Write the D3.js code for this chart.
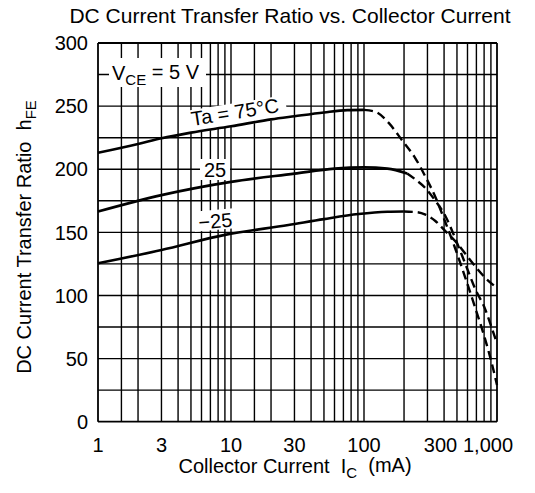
<!DOCTYPE html>
<html>
<head>
<meta charset="utf-8">
<script src="https://cdn.jsdelivr.net/npm/d3@7"></script>
<style>
  body { margin: 0; background: #fff; }
  svg { font-family: "Liberation Sans", Arial, sans-serif; }
  text { white-space: pre; }
</style>
</head>
<body>
<div id="chart"></div>
<script>
// grid and tick values
const xGrid = [1, 1.5, 2, 3, 4, 5, 6, 7, 8, 9,
               10, 15, 20, 30, 40, 50, 60, 70, 80, 90,
               100, 200, 300, 400, 500, 600, 700, 800, 900, 1000];
const yGrid = [0, 25, 50, 75, 100, 125, 150, 175, 200, 225, 250, 275, 300];
const xTicks = [1, 3, 10, 30, 100, 300, 1000];
const xTickText = ["1", "3", "10", "30", "100", "300", "1,000"];
const yTicks = [0, 50, 100, 150, 200, 250, 300];

// curves: [Ic (mA), hFE]
const t75Solid = [[1, 213], [2, 220], [3, 224.5], [5, 229], [10, 234], [20, 239.5], [30, 242], [50, 245], [75, 246.8], [100, 247]];
const t75Dash  = [[100, 247], [122, 245.5], [154, 236.5], [193, 223], [244, 208.5], [290, 194], [344, 178], [409, 158], [486, 137], [578, 114], [687, 90], [816, 65], [915, 46], [1000, 29]];
const t25Solid = [[1, 166.5], [3, 179.5], [10, 190], [30, 196.5], [60, 200.5], [100, 201.5], [150, 200.5], [211, 196.7]];
const t25Dash  = [[211, 196.7], [250, 191], [290, 185], [344, 175], [409, 163], [486, 145], [578, 125], [687, 105], [816, 89], [915, 74], [1000, 62]];
const tm25Solid = [[1, 125.5], [3, 136], [9, 148], [27, 155.8], [50, 160.5], [91, 164.5], [150, 166.3], [199, 166.5]];
const tm25Dash  = [[199, 166.5], [250, 166], [290, 164], [344, 159], [409, 151], [486, 143], [578, 133], [687, 123], [816, 114], [1000, 106]];

const W = 535, H = 493;
const L = 98, R = 497, T = 43, B = 421.7;

const svg = d3.select("#chart").append("svg")
    .attr("width", W)
    .attr("height", H);

const x = d3.scaleLog().domain([1, 1000]).range([L, R]);
const y = d3.scaleLinear().domain([0, 300]).range([B, T]);

// grid
svg.append("g")
    .selectAll("line")
    .data(xGrid)
    .enter()
    .append("line")
    .attr("x1", d => x(d)).attr("x2", d => x(d))
    .attr("y1", T).attr("y2", B)
    .attr("stroke", "#000")
    .attr("stroke-width", d => (d === 1 || d === 1000) ? 1.8 : 1.4);

svg.append("g")
    .selectAll("line")
    .data(yGrid)
    .enter()
    .append("line")
    .attr("x1", L).attr("x2", R)
    .attr("y1", d => y(d)).attr("y2", d => y(d))
    .attr("stroke", "#000")
    .attr("stroke-width", d => (d === 0 || d === 300) ? 1.8 : 1.4);

// label backgrounds
svg.append("rect").attr("x", 109).attr("y", 58).attr("width", 97).attr("height", 29).attr("fill", "#fff");
svg.append("rect").attr("x", 200).attr("y", 159).attr("width", 30).attr("height", 21).attr("fill", "#fff");
svg.append("rect").attr("x", 194).attr("y", 210).attr("width", 43).attr("height", 20).attr("fill", "#fff")
    .attr("transform", "rotate(-5, 215, 220)");
svg.append("rect").attr("x", 185).attr("y", 103).attr("width", 102).attr("height", 23).attr("fill", "#fff")
    .attr("transform", "rotate(-9, 236, 115)");

// curves
const line = d3.line()
    .x(d => x(d[0]))
    .y(d => y(d[1]))
    .curve(d3.curveMonotoneX);

[t75Solid, t25Solid, tm25Solid].forEach(s => {
    svg.append("path")
        .attr("d", line(s))
        .attr("fill", "none")
        .attr("stroke", "#000")
        .attr("stroke-width", 2.6);
});

[t75Dash, t25Dash, tm25Dash].forEach(s => {
    svg.append("path")
        .attr("d", line(s))
        .attr("fill", "none")
        .attr("stroke", "#000")
        .attr("stroke-width", 2.4)
        .attr("stroke-dasharray", "9,5");
});

// tick labels
svg.append("g")
    .selectAll("text")
    .data(yTicks)
    .enter()
    .append("text")
    .attr("x", 88)
    .attr("y", d => y(d))
    .attr("dy", "0.36em")
    .attr("text-anchor", "end")
    .style("font-size", "20px")
    .text(d => d);

svg.append("g")
    .selectAll("text")
    .data(xTicks)
    .enter()
    .append("text")
    .attr("x", (d, i) => x(d) + (d === 300 ? 13 : d === 1000 ? -9 : 0))
    .attr("y", 452)
    .attr("text-anchor", "middle")
    .style("font-size", "20px")
    .text((d, i) => xTickText[i]);

// title
svg.append("text")
    .attr("x", 290)
    .attr("y", 23)
    .attr("text-anchor", "middle")
    .style("font-size", "21px")
    .text("DC Current Transfer Ratio vs. Collector Current");

// x axis title
const xt = svg.append("text")
    .attr("x", 295)
    .attr("y", 473)
    .attr("text-anchor", "middle")
    .style("font-size", "20px");
xt.append("tspan").text("Collector Current  I");
xt.append("tspan").attr("dy", "0.3em").style("font-size", "15px").text("C");
xt.append("tspan").attr("dy", "-0.3em").text("  (mA)");

// y axis title
const yt = svg.append("text")
    .attr("transform", "translate(31, 237) rotate(-90)")
    .attr("text-anchor", "middle")
    .style("font-size", "20px");
yt.append("tspan").text("DC Current Transfer Ratio  h");
yt.append("tspan").attr("dy", "0.3em").style("font-size", "15px").text("FE");

// annotations
const vce = svg.append("text")
    .attr("x", 112)
    .attr("y", 80)
    .style("font-size", "20px");
vce.append("tspan").text("V");
vce.append("tspan").attr("dy", "0.3em").style("font-size", "15px").text("CE");
vce.append("tspan").attr("dy", "-0.3em").text(" = 5 V");

svg.append("text")
    .attr("transform", "translate(236, 119) rotate(-9)")
    .attr("text-anchor", "middle")
    .style("font-size", "20px")
    .text("Ta = 75°C");

svg.append("text")
    .attr("x", 215)
    .attr("y", 177)
    .attr("text-anchor", "middle")
    .style("font-size", "20px")
    .text("25");

svg.append("text")
    .attr("transform", "translate(216, 228) rotate(-5)")
    .attr("text-anchor", "middle")
    .style("font-size", "20px")
    .text("−25");
</script>
</body>
</html>
